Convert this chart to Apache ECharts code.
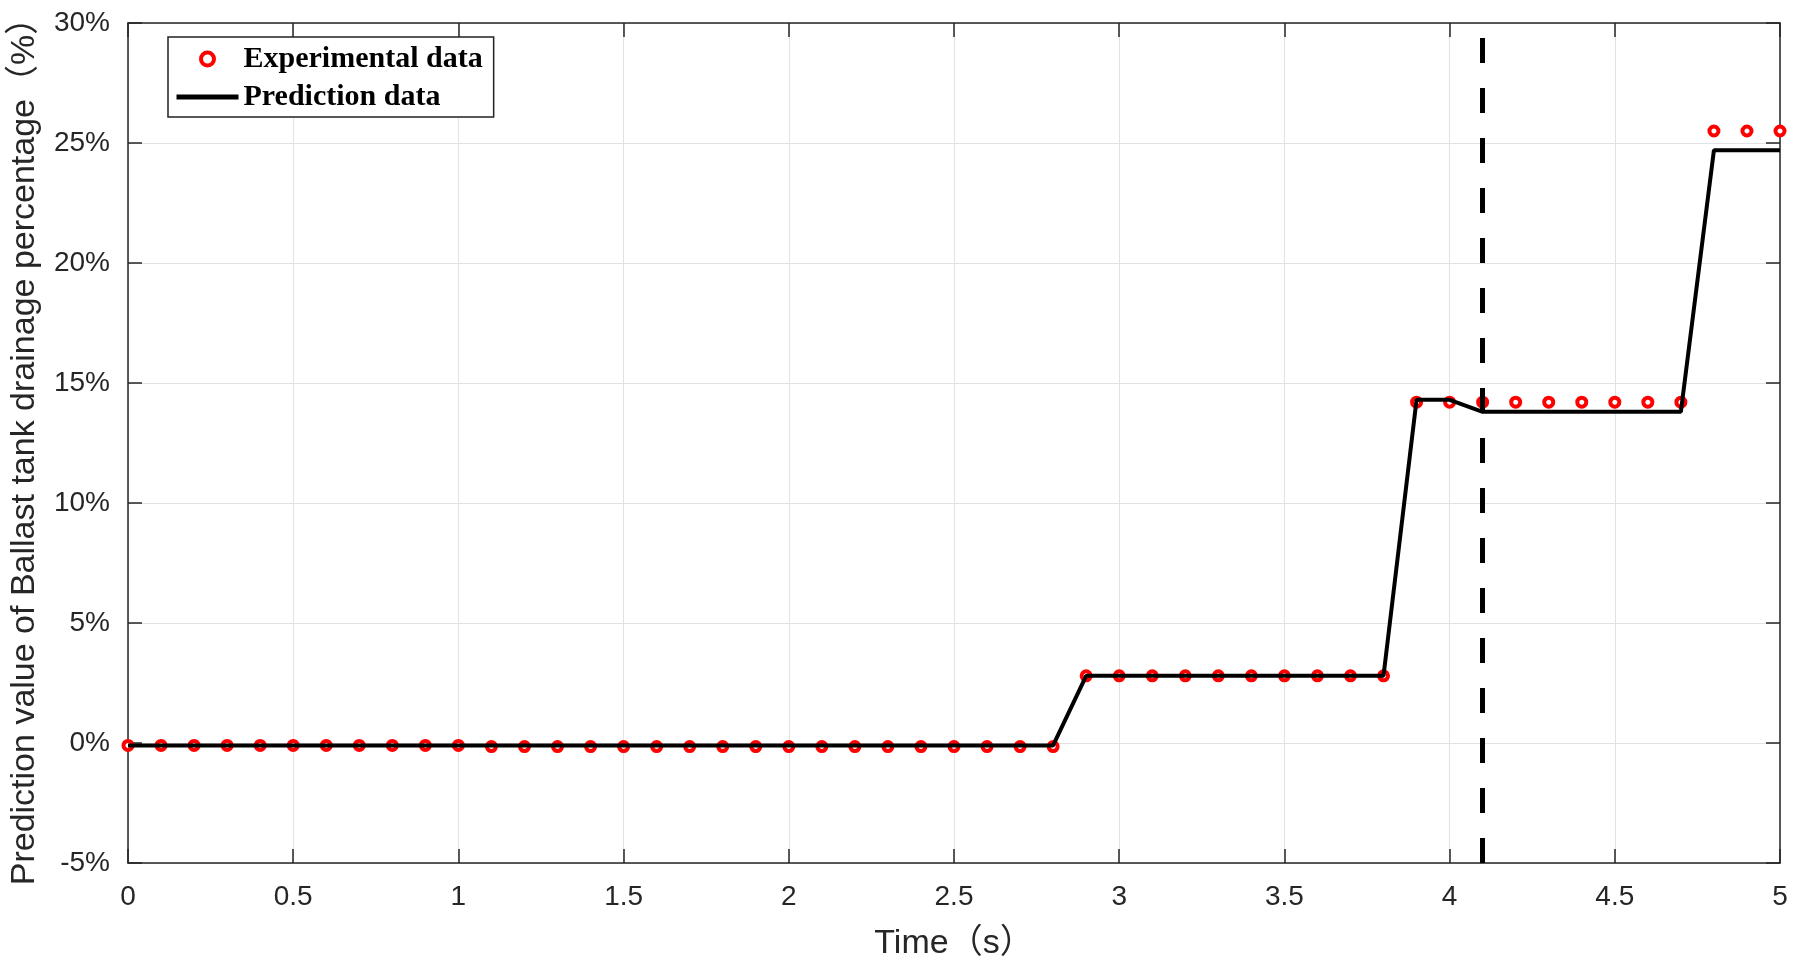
<!DOCTYPE html>
<html>
<head>
<meta charset="utf-8">
<script src="https://cdn.jsdelivr.net/npm/echarts@6/dist/echarts.min.js"></script>
<style>
  html, body { margin: 0; padding: 0; background: #fff; }
  #chart { width: 1799px; height: 966px; }
</style>
</head>
<body>
<div id="chart"></div>
<script>
  // experimental samples (every 0.1 s)
  const expTime = [
    0, 0.1, 0.2, 0.3, 0.4, 0.5, 0.6, 0.7, 0.8, 0.9, 1.0,
    1.1, 1.2, 1.3, 1.4, 1.5, 1.6, 1.7, 1.8, 1.9, 2.0,
    2.1, 2.2, 2.3, 2.4, 2.5, 2.6, 2.7, 2.8, 2.9, 3.0,
    3.1, 3.2, 3.3, 3.4, 3.5, 3.6, 3.7, 3.8, 3.9, 4.0,
    4.1, 4.2, 4.3, 4.4, 4.5, 4.6, 4.7, 4.8, 4.9, 5.0
  ]
  const expValue = [
    -0.1, -0.1, -0.1, -0.1, -0.1, -0.1, -0.1, -0.1, -0.1, -0.1, -0.1,
    -0.15, -0.15, -0.15, -0.15, -0.15, -0.15, -0.15, -0.15, -0.15, -0.15,
    -0.15, -0.15, -0.15, -0.15, -0.15, -0.15, -0.15, -0.15, 2.8, 2.8,
    2.8, 2.8, 2.8, 2.8, 2.8, 2.8, 2.8, 2.8, 14.2, 14.2,
    14.2, 14.2, 14.2, 14.2, 14.2, 14.2, 14.2, 25.5, 25.5, 25.5
  ]
  // prediction curve break points
  const predTime = [0, 2.8, 2.9, 3.8, 3.9, 4.0, 4.1, 4.7, 4.8, 5.0]
  const predValue = [-0.1, -0.1, 2.8, 2.8, 14.3, 14.3, 13.8, 13.8, 24.7, 24.7]
  const switchTime = 4.1

  const xTicks = [0, 0.5, 1, 1.5, 2, 2.5, 3, 3.5, 4, 4.5, 5]
  const yTicks = [-5, 0, 5, 10, 15, 20, 25, 30]

  const axisColor = '#262626'
  const sansFont = '"Liberation Sans", Arial, "Noto Sans CJK SC", sans-serif'

  const chart = echarts.init(document.getElementById('chart'))

  // top / right axes only close the box (ticks inside, no labels)
  const frameAxis = {
    axisLine: { show: true, onZero: false, lineStyle: { color: axisColor, width: 1.5 } },
    axisTick: { show: true, inside: true, length: 14, lineStyle: { color: axisColor, width: 1.5 } },
    axisLabel: { show: false },
    splitLine: { show: false }
  }

  const option = {
    animation: false,
    backgroundColor: '#fff',
    grid: { left: 128, right: 19, top: 23, bottom: 103, containLabel: false, outerBoundsMode: 'none' },
    legend: {
      orient: 'vertical',
      left: 168,
      top: 37,
      padding: [7, 11, 5, 6],
      itemGap: 8,
      itemWidth: 62,
      itemHeight: 13,
      borderColor: '#222',
      borderWidth: 1.5,
      borderRadius: 0,
      backgroundColor: '#fff',
      textStyle: {
        fontFamily: '"Liberation Serif", "Times New Roman", serif',
        fontWeight: 'bold',
        fontSize: 30,
        color: '#000'
      },
      data: [
        { name: 'Experimental data', itemStyle: { borderWidth: 4 } },
        { name: 'Prediction data', itemStyle: { opacity: 0 }, lineStyle: { width: 5, color: '#000' } }
      ]
    },
    xAxis: [
      {
        type: 'value',
        min: 0,
        max: 5,
        interval: 0.5,
        name: 'Time（s）',
        nameLocation: 'middle',
        nameGap: 64,
        nameTextStyle: { fontFamily: sansFont, fontSize: 34, color: axisColor },
        axisLine: { show: true, onZero: false, lineStyle: { color: axisColor, width: 1.5 } },
        axisTick: { show: true, inside: true, length: 14, lineStyle: { color: axisColor, width: 1.5 } },
        axisLabel: {
          margin: 20,
          fontFamily: sansFont,
          fontSize: 28,
          color: axisColor,
          formatter: v => xTicks.includes(v) ? String(v) : ''
        },
        splitLine: { show: true, lineStyle: { color: '#e2e2e2', width: 1 } }
      },
      Object.assign({ type: 'value', min: 0, max: 5, interval: 0.5, position: 'top' }, frameAxis)
    ],
    yAxis: [
      {
        type: 'value',
        min: -5,
        max: 30,
        interval: 5,
        name: 'Prediction value of Ballast tank drainage percentage（%）',
        nameLocation: 'middle',
        nameGap: 86,
        nameTextStyle: { fontFamily: sansFont, fontSize: 34, color: axisColor },
        axisLine: { show: true, onZero: false, lineStyle: { color: axisColor, width: 1.5 } },
        axisTick: { show: true, inside: true, length: 14, lineStyle: { color: axisColor, width: 1.5 } },
        axisLabel: {
          margin: 18,
          fontFamily: sansFont,
          fontSize: 28,
          color: axisColor,
          formatter: v => yTicks.includes(v) ? v + '%' : ''
        },
        splitLine: { show: true, lineStyle: { color: '#e2e2e2', width: 1 } }
      },
      Object.assign({ type: 'value', min: -5, max: 30, interval: 5, position: 'right' }, frameAxis)
    ],
    series: [
      {
        name: 'Experimental data',
        type: 'scatter',
        z: 2,
        symbol: 'circle',
        symbolSize: 9,
        clip: false,
        itemStyle: { color: '#fff', borderColor: '#ff0000', borderWidth: 4, opacity: 1 },
        data: expTime.map((t, i) => [t, expValue[i]])
      },
      {
        name: 'Prediction data',
        type: 'line',
        z: 3,
        showSymbol: false,
        symbol: 'none',
        color: '#000',
        lineStyle: { color: '#000', width: 4 },
        data: predTime.map((t, i) => [t, predValue[i]]),
        markLine: {
          silent: true,
          symbol: 'none',
          label: { show: false },
          lineStyle: { color: '#000', width: 5, type: [25, 25] },
          data: [{ xAxis: switchTime }]
        }
      }
    ]
  }

  chart.setOption(option)
</script>
</body>
</html>
